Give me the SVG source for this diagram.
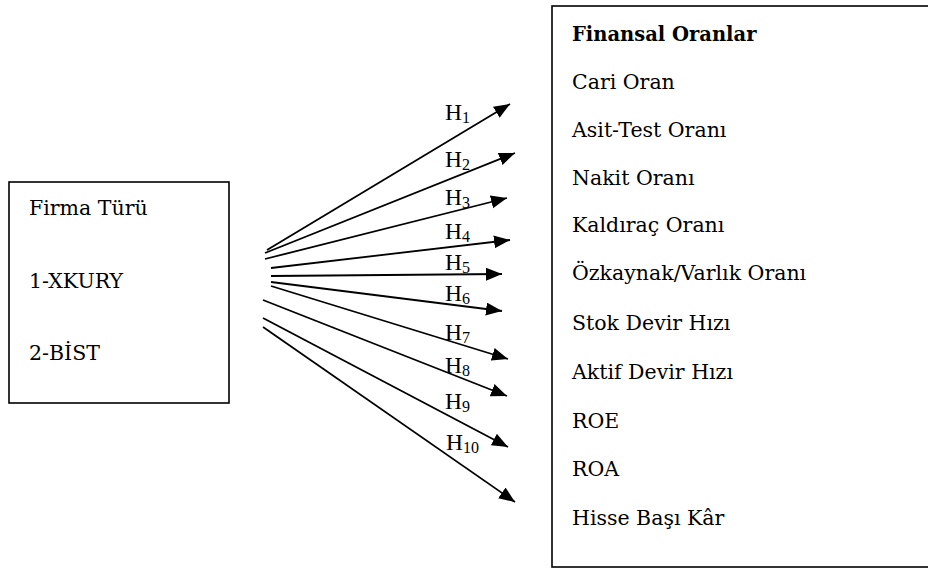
<svg xmlns="http://www.w3.org/2000/svg" width="928" height="570" viewBox="0 0 928 570">
<style>
.box{fill:#fff;stroke:#000;stroke-width:1.6}
.t{font-family:"DejaVu Serif","Liberation Serif",serif;font-size:20.5px;fill:#000}
.b{font-weight:bold;font-size:19.5px}
.h{font-family:"Liberation Serif","Times New Roman",serif;font-size:23.5px;fill:#000}
.s{font-size:16px}
.c line{stroke:#000;stroke-width:1.8;marker-end:url(#ah)}
</style>
<defs>
<marker id="ah" markerUnits="userSpaceOnUse" markerWidth="17" markerHeight="14" refX="16" refY="6.5" orient="auto">
<path d="M0,0 L16,6.5 L0,13 Z" fill="#000"/>
</marker>
</defs>
<rect width="928" height="570" fill="#fff"/>
<g id="firma">
<rect class="box" x="9" y="182" width="220" height="221"/>
<text class="t" x="29" y="215">Firma Türü</text>
<text class="t" x="29" y="288">1-XKURY</text>
<text class="t" x="29" y="360">2-BİST</text>
</g>
<g id="oranlar">
<rect class="box" x="552" y="6" width="400" height="561"/>
<text class="t b" x="572" y="41">Finansal Oranlar</text>
<text class="t" x="572" y="89">Cari Oran</text>
<text class="t" x="572" y="137">Asit-Test Oranı</text>
<text class="t" x="572" y="185">Nakit Oranı</text>
<text class="t" x="572" y="232">Kaldıraç Oranı</text>
<text class="t" x="572" y="280">Özkaynak/Varlık Oranı</text>
<text class="t" x="572" y="330">Stok Devir Hızı</text>
<text class="t" x="572" y="379">Aktif Devir Hızı</text>
<text class="t" x="572" y="428">ROE</text>
<text class="t" x="572" y="476">ROA</text>
<text class="t" x="572" y="525">Hisse Başı Kâr</text>
</g>
<g id="connectors" class="c">
<line x1="267" y1="250" x2="510" y2="104"/>
<line x1="265" y1="253" x2="515" y2="153"/>
<line x1="265" y1="259" x2="507" y2="198"/>
<line x1="271" y1="268" x2="510" y2="240"/>
<line x1="271" y1="276" x2="502" y2="274"/>
<line x1="271" y1="282" x2="502" y2="311"/>
<line x1="271" y1="286" x2="508" y2="359"/>
<line x1="263" y1="300" x2="507" y2="396"/>
<line x1="263" y1="318" x2="508" y2="447"/>
<line x1="263" y1="327" x2="515" y2="502"/>
</g>
<g id="labels" class="h">
<text x="445" y="120">H<tspan class="s" dy="3">1</tspan></text>
<text x="445" y="167">H<tspan class="s" dy="3">2</tspan></text>
<text x="445" y="205">H<tspan class="s" dy="3">3</tspan></text>
<text x="445" y="239">H<tspan class="s" dy="3">4</tspan></text>
<text x="445" y="270">H<tspan class="s" dy="3">5</tspan></text>
<text x="445" y="301">H<tspan class="s" dy="3">6</tspan></text>
<text x="445" y="340">H<tspan class="s" dy="3">7</tspan></text>
<text x="445" y="373">H<tspan class="s" dy="3">8</tspan></text>
<text x="445" y="409">H<tspan class="s" dy="3">9</tspan></text>
<text x="446" y="450">H<tspan class="s" dy="3">10</tspan></text>
</g>
</svg>
